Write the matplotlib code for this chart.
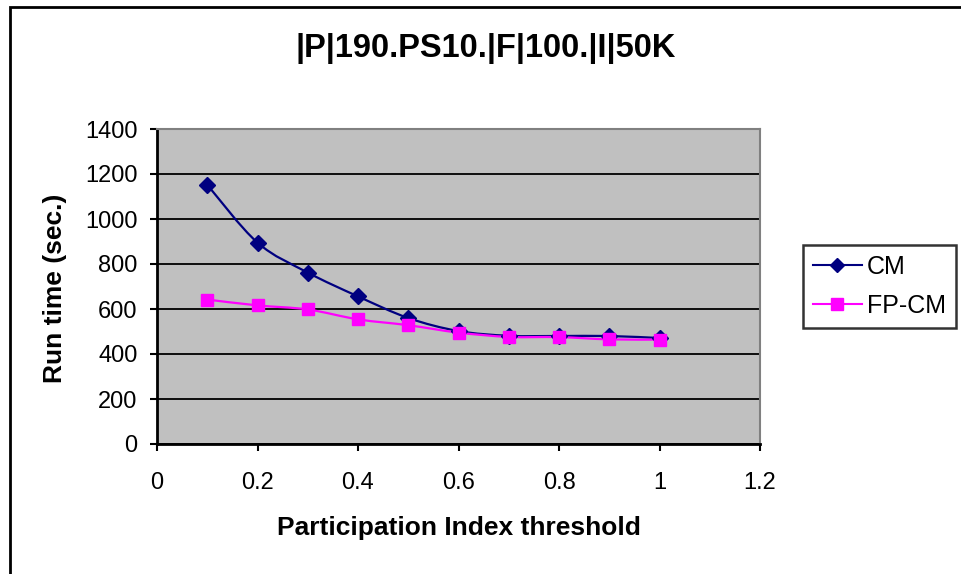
import numpy as np
import matplotlib.pyplot as plt
from matplotlib.path import Path
from matplotlib.patches import PathPatch, Rectangle
from matplotlib.lines import Line2D

plt.rcParams['font.family'] = ['Liberation Sans', 'DejaVu Sans']

# participation index threshold vs run time
threshold = [0.1, 0.2, 0.3, 0.4, 0.5, 0.6, 0.7, 0.8, 0.9, 1.0]
cm_time = [1152, 895, 762, 656, 560, 502, 481, 480, 480, 471]
fpcm_time = [642, 616, 598, 554, 528, 495, 476, 475, 465, 464]

x_ticks = [0, 0.2, 0.4, 0.6, 0.8, 1, 1.2]
x_labels = ['0', '0.2', '0.4', '0.6', '0.8', '1', '1.2']
y_ticks = [0, 200, 400, 600, 800, 1000, 1200, 1400]


def smooth_path(xs, ys):
    # bezier curve through every point, excel style smoothing
    p = np.column_stack([xs, ys]).astype(float)
    ext = np.vstack([p[0], p, p[-1]])
    verts = [p[0]]
    codes = [Path.MOVETO]
    for i in range(1, len(ext) - 2):
        c1 = ext[i] + (ext[i + 1] - ext[i - 1]) / 6
        c2 = ext[i + 1] - (ext[i + 2] - ext[i]) / 6
        verts += [c1, c2, ext[i + 1]]
        codes += [Path.CURVE4] * 3
    return Path(verts, codes)


fig = plt.figure(figsize=(9.61, 5.74), dpi=100)
ax = fig.add_axes([157/961, 1 - 444/574, 603/961, 315/574])
ax.set_facecolor('#c0c0c0')

# chart frame
fig.patches.append(Rectangle((9.5/961, -0.1), 1.1, 1 - 6.5/574 + 0.1, transform=fig.transFigure,
                             fill=False, edgecolor='black', linewidth=2))

ax.add_patch(PathPatch(smooth_path(threshold, cm_time), fill=False, edgecolor='#000080', lw=1.6, zorder=3))
ax.add_patch(PathPatch(smooth_path(threshold, fpcm_time), fill=False, edgecolor='#ff00ff', lw=1.6, zorder=3))
ax.plot(threshold, cm_time, linestyle='none', marker='D', markersize=8, color='#000080', zorder=4)
ax.plot(threshold, fpcm_time, linestyle='none', marker='s', markersize=8.5, color='#ff00ff', zorder=5)

ax.set_xlim(0, 1.2)
ax.set_ylim(0, 1400)
ax.set_xticks(x_ticks)
ax.set_xticklabels(x_labels)
ax.set_yticks(y_ticks)
ax.yaxis.grid(True, color='black', linewidth=1.3)
ax.set_axisbelow(True)

for side in ['top', 'right']:
    ax.spines[side].set_color('#808080')
    ax.spines[side].set_linewidth(1.5)
for side in ['left', 'bottom']:
    ax.spines[side].set_color('black')
    ax.spines[side].set_linewidth(2)
ax.tick_params(axis='both', direction='out', length=5, width=1.5, labelsize=17)
ax.tick_params(axis='y', pad=9)
ax.tick_params(axis='x', pad=15)

ax.set_xlabel('Participation Index threshold', fontsize=19, fontweight='bold')
ax.set_ylabel('Run time (sec.)', fontsize=19, fontweight='bold')
ax.xaxis.set_label_coords(0.5, (444 - 528) / 315)
ax.xaxis.label.set_va('center')
ax.yaxis.set_label_coords((55 - 157) / 603, (444 - 288) / 315)
ax.yaxis.label.set_va('center')
ax.yaxis.label.set_ha('center')

fig.text(486/961, 1 - 48/574, '|P|190.PS10.|F|100.|I|50K', fontsize=23.5, fontweight='bold',
         ha='center', va='center')

handles = [Line2D([], [], color='#000080', marker='D', markersize=7, lw=1.5),
           Line2D([], [], color='#ff00ff', marker='s', markersize=8, lw=1.5)]
leg = fig.legend(handles, ['CM', 'FP-CM'], loc='upper left', bbox_to_anchor=(803/961, 1 - 245/574),
                 fontsize=18, frameon=True, fancybox=False, edgecolor='black', borderaxespad=0,
                 handlelength=1.95, handletextpad=0.2, borderpad=0.4, labelspacing=0.6)
leg.get_frame().set_linewidth(1.8)

fig.savefig('out.png', dpi=100)
